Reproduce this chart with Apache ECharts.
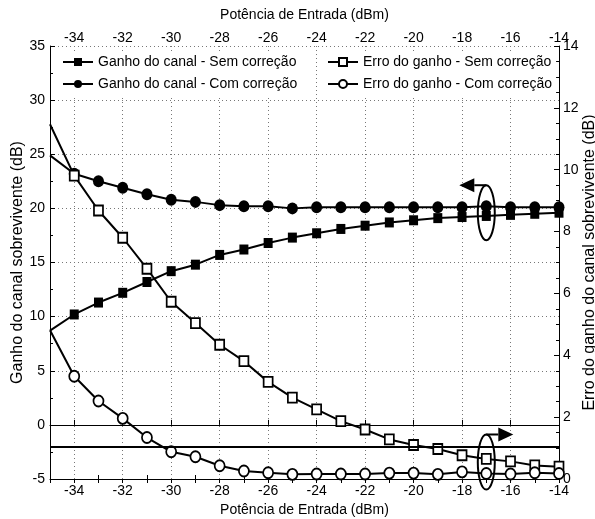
<!DOCTYPE html>
<html>
<head>
<meta charset="utf-8">
<script src="https://cdn.jsdelivr.net/npm/echarts@6/dist/echarts.min.js"></script>
<style>
  html, body { margin: 0; padding: 0; background: #fff; }
  #chart { width: 595px; height: 519px; }
</style>
</head>
<body>
<div id="chart"></div>
<script>
// potência de entrada (dBm)
const potencia = [-35, -34, -33, -32, -31, -30, -29, -28, -27, -26, -25, -24, -23, -22, -21, -20, -19, -18, -17, -16, -15, -14];
// eixo esquerdo (dB)
const ganhoSemCorrecao = [8.7, 10.2, 11.3, 12.2, 13.2, 14.2, 14.8, 15.7, 16.2, 16.8, 17.3, 17.7, 18.1, 18.4, 18.7, 18.9, 19.1, 19.2, 19.3, 19.4, 19.5, 19.6];
const ganhoComCorrecao = [24.9, 23.2, 22.5, 21.9, 21.3, 20.8, 20.6, 20.3, 20.2, 20.2, 20.0, 20.1, 20.1, 20.1, 20.1, 20.1, 20.1, 20.1, 20.2, 20.1, 20.1, 20.1];
// eixo direito (dB)
const erroSemCorrecao = [11.47, 9.81, 8.68, 7.8, 6.8, 5.73, 5.04, 4.34, 3.81, 3.14, 2.63, 2.25, 1.87, 1.6, 1.28, 1.1, 0.97, 0.77, 0.65, 0.57, 0.44, 0.4];
const erroComCorrecao = [4.81, 3.32, 2.52, 1.96, 1.34, 0.88, 0.72, 0.43, 0.26, 0.2, 0.15, 0.16, 0.16, 0.16, 0.19, 0.19, 0.15, 0.23, 0.18, 0.16, 0.2, 0.18];
const limiar = -2;

const ticksPares = [-34, -32, -30, -28, -26, -24, -22, -20, -18, -16, -14];
const ticksImpares = [-35, -33, -31, -29, -27, -25, -23, -21, -19, -17, -15];
const ticksTodos = potencia;

const nomes = [
  'Ganho do canal - Sem correção',
  'Ganho do canal - Com correção',
  'Erro do ganho - Sem correção',
  'Erro do ganho - Com correção'
];

const FONTE = '"Liberation Sans", Arial, sans-serif';

function pontos(ys) {
  // o primeiro ponto fica na borda do gráfico, sem marcador
  return potencia.map((x, i) => (i === 0 ? { value: [x, ys[i]], symbol: 'none' } : [x, ys[i]]));
}

const legendaBase = {
  orient: 'vertical',
  top: 51,
  itemWidth: 30,
  itemHeight: 10,
  itemGap: 8,
  selectedMode: false,
  backgroundColor: '#fff',
  padding: [4, 4, 4, 6],
  textStyle: { fontSize: 14, color: '#000', fontFamily: FONTE }
};

const chart = echarts.init(document.getElementById('chart'));
chart.setOption({
  animation: false,
  color: ['#000'],
  textStyle: { fontFamily: FONTE },
  grid: { left: 50, right: 36, top: 46, bottom: 40, outerBoundsMode: 'none', containLabel: false },
  legend: [
    Object.assign({}, legendaBase, { left: 56, data: [nomes[0], nomes[1]] }),
    Object.assign({}, legendaBase, { left: 321, data: [nomes[2], nomes[3]] })
  ],
  xAxis: [
    {
      type: 'value', position: 'bottom', min: -35, max: -14,
      name: 'Potência de Entrada (dBm)', nameLocation: 'middle', nameGap: 24, nameMoveOverlap: false,
      nameTextStyle: { fontSize: 14, color: '#000' },
      axisLine: { lineStyle: { color: '#000', width: 1 } },
      axisTick: { inside: true, length: 5, customValues: ticksPares, lineStyle: { color: '#000' } },
      axisLabel: { customValues: ticksPares, fontSize: 14, color: '#000', margin: 5 },
      splitLine: { show: true, lineStyle: { color: '#777', type: [1, 3], width: 1 } }
    },
    {
      type: 'value', position: 'top', min: -35, max: -14,
      name: 'Potência de Entrada (dBm)', nameLocation: 'middle', nameGap: 24, nameMoveOverlap: false,
      nameTextStyle: { fontSize: 14, color: '#000' },
      axisLine: { lineStyle: { color: '#000', width: 1 } },
      axisTick: { inside: true, length: 4, customValues: ticksTodos, lineStyle: { color: '#000' } },
      axisLabel: { customValues: ticksPares, fontSize: 14, color: '#000', margin: 1 },
      splitLine: { show: false }
    },
    {
      type: 'value', position: 'bottom', min: -35, max: -14,
      axisLine: { show: false },
      axisTick: { inside: true, length: 4, customValues: ticksImpares, lineStyle: { color: '#000' } },
      axisLabel: { show: false },
      splitLine: { show: false }
    }
  ],
  yAxis: [
    {
      type: 'value', position: 'left', min: -5, max: 35, interval: 5,
      name: 'Ganho do canal sobrevivente (dB)', nameLocation: 'middle', nameGap: 24, nameRotate: 90,
      nameMoveOverlap: false,
      nameTextStyle: { fontSize: 16, color: '#000' },
      axisLine: { show: true, lineStyle: { color: '#000', width: 1 } },
      axisTick: { show: true, inside: true, length: 5, lineStyle: { color: '#000' } },
      minorTick: { show: true, splitNumber: 2, length: 3, lineStyle: { color: '#000' } },
      axisLabel: { fontSize: 14, color: '#000', margin: 5 },
      splitLine: { show: true, lineStyle: { color: '#777', type: [1, 3], width: 1 } }
    },
    {
      type: 'value', position: 'right', min: 0, max: 14, interval: 2,
      name: 'Erro do ganho do canal sobrevivente (dB)', nameLocation: 'middle', nameGap: 23, nameRotate: 90,
      nameMoveOverlap: false,
      nameTextStyle: { fontSize: 16, color: '#000' },
      axisLine: { show: true, lineStyle: { color: '#000', width: 1 } },
      axisTick: { show: true, inside: true, length: 5, lineStyle: { color: '#000' } },
      minorTick: { show: true, splitNumber: 4, length: 3, lineStyle: { color: '#000' } },
      axisLabel: { fontSize: 14, color: '#000', margin: 4 },
      splitLine: { show: false }
    }
  ],
  series: [
    {
      name: nomes[0], type: 'line', xAxisIndex: 0, yAxisIndex: 0,
      data: pontos(ganhoSemCorrecao),
      symbol: 'rect', symbolSize: [9, 10],
      lineStyle: { color: '#000', width: 2 },
      itemStyle: { color: '#000' },
      markLine: {
        silent: true, symbol: 'none', label: { show: false },
        lineStyle: { color: '#000', width: 2, type: 'solid' },
        data: [{ yAxis: limiar }]
      }
    },
    {
      name: nomes[1], type: 'line', xAxisIndex: 0, yAxisIndex: 0,
      data: pontos(ganhoComCorrecao),
      symbol: 'circle', symbolSize: [11, 12],
      lineStyle: { color: '#000', width: 2 },
      itemStyle: { color: '#000' }
    },
    {
      name: nomes[2], type: 'line', xAxisIndex: 0, yAxisIndex: 1,
      data: pontos(erroSemCorrecao),
      symbol: 'rect', symbolSize: [9, 10],
      lineStyle: { color: '#000', width: 2 },
      itemStyle: { color: '#fff', borderColor: '#000', borderWidth: 1.8 }
    },
    {
      name: nomes[3], type: 'line', xAxisIndex: 0, yAxisIndex: 1,
      data: pontos(erroComCorrecao),
      symbol: 'circle', symbolSize: [10, 11],
      lineStyle: { color: '#000', width: 2 },
      itemStyle: { color: '#fff', borderColor: '#000', borderWidth: 1.8 }
    }
  ]
});

// elipses e setas indicando a qual eixo cada grupo de curvas pertence
function anotacao(centro, direcao) {
  const rx = 8.5, ry = 27.5;
  const topo = centro[1] - ry;
  const base = centro[0] + direcao * 12;
  const ponta = centro[0] + direcao * 27;
  return [
    { type: 'ellipse', z: 100, shape: { cx: centro[0], cy: centro[1], rx: rx, ry: ry },
      style: { fill: 'none', stroke: '#000', lineWidth: 2 } },
    { type: 'polyline', z: 100, shape: { points: [[centro[0], topo], [base, topo]] },
      style: { stroke: '#000', lineWidth: 2, fill: 'none' } },
    { type: 'polygon', z: 100, shape: { points: [[base, topo - 7], [base, topo + 7], [ponta, topo]] },
      style: { fill: '#000' } }
  ];
}
const c1 = chart.convertToPixel({ xAxisIndex: 0, yAxisIndex: 0 }, [-17, 19.6]);
const c2 = chart.convertToPixel({ xAxisIndex: 0, yAxisIndex: 1 }, [-17, 0.55]);
chart.setOption({ graphic: anotacao(c1, -1).concat(anotacao(c2, 1)) });
</script>
</body>
</html>
